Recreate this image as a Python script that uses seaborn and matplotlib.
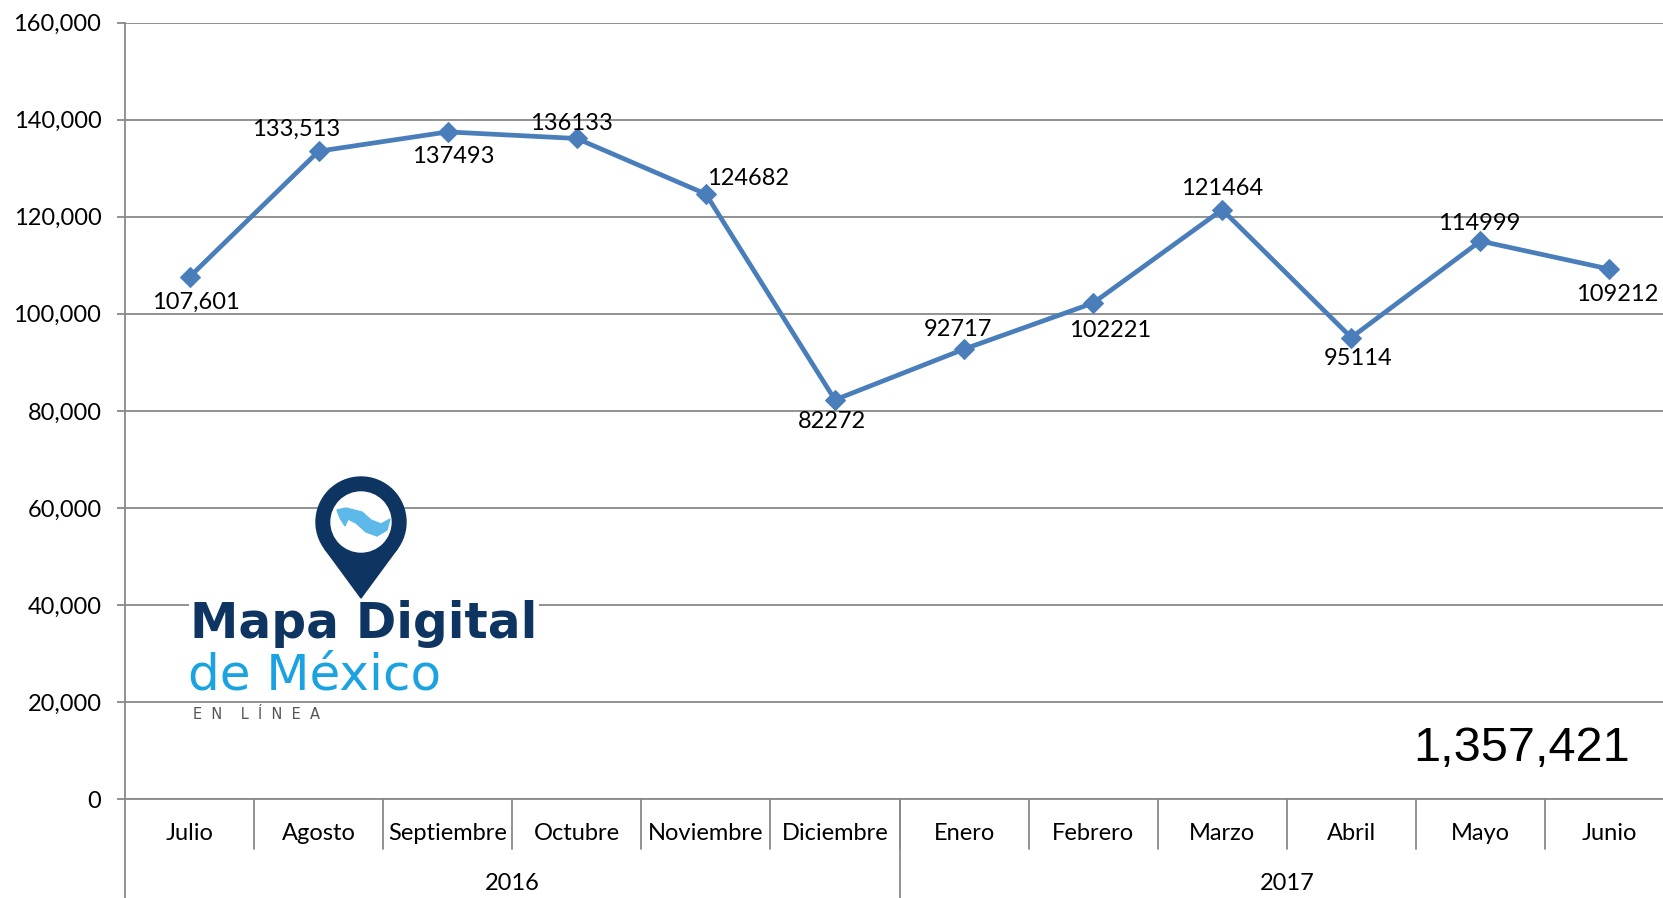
import matplotlib
matplotlib.use("Agg")
import matplotlib.pyplot as plt
import matplotlib.patches as mpatches
import matplotlib.transforms as mtransforms
import pandas as pd
import seaborn as sns
from matplotlib.ticker import FuncFormatter

# ---------------------------------------------------------------------------
# Datos
# ---------------------------------------------------------------------------
meses = ["Julio", "Agosto", "Septiembre", "Octubre", "Noviembre", "Diciembre",
         "Enero", "Febrero", "Marzo", "Abril", "Mayo", "Junio"]
anios = ["2016", "2017"]
meses_por_anio = [6, 6]
valores = [107601, 133513, 137493, 136133, 124682, 82272,
           92717, 102221, 121464, 95114, 114999, 109212]
etiquetas = ["107,601", "133,513", "137493", "136133", "124682", "82272",
             "92717", "102221", "121464", "95114", "114999", "109212"]
total = "1,357,421"

# desplazamiento de cada etiqueta de dato (pixeles, x derecha / y arriba)
desplazamientos = [(6, -25), (-22, 22), (6, -25), (-5, 15), (1, 16), (-3, -22),
                   (-6, 20), (17, -27), (0, 21), (7, -21), (-1, 18), (8, -25)]
alineacion = ["center"] * 4 + ["left"] + ["center"] * 7

# ---------------------------------------------------------------------------
# Estilo
# ---------------------------------------------------------------------------
sns.set_theme(style="white")
plt.rcParams["font.family"] = ["Lato", "DejaVu Sans"]
plt.rcParams["text.color"] = "black"

AZUL = "#4A7EBB"
GRIS = "#898989"
W, H = 1663, 898

df = pd.DataFrame({"mes": meses, "valor": valores})

fig = plt.figure(figsize=(W / 100, H / 100), dpi=100)
ax = fig.add_axes([125 / W, (H - 799) / H, 1549 / W, 776.3 / H])

sns.lineplot(data=df, x="mes", y="valor", sort=False, ax=ax,
             color=AZUL, linewidth=3.4, marker="D", markersize=10.5,
             markeredgecolor=AZUL, markerfacecolor=AZUL)

ax.set_xlim(-0.5, len(meses) - 0.5)
ax.set_ylim(0, 160000)
ax.set_yticks(range(0, 160001, 20000))
ax.yaxis.set_major_formatter(FuncFormatter(lambda v, p: f"{int(v):,}"))
ax.set_xticks([])
ax.set_xlabel("")
ax.set_ylabel("")
ax.yaxis.grid(True, color=GRIS, linewidth=1.3)
ax.set_axisbelow(True)
for lado in ["top", "right"]:
    ax.spines[lado].set_visible(False)
for lado in ["left", "bottom"]:
    ax.spines[lado].set_color(GRIS)
    ax.spines[lado].set_linewidth(1.3)
ax.tick_params(axis="y", left=True, length=6, width=1.3, color=GRIS,
               pad=11, labelsize=17, labelcolor="black")

# etiquetas de datos
for i, (v, txt) in enumerate(zip(valores, etiquetas)):
    dx, dy = desplazamientos[i]
    ax.annotate(txt, (i, v), xytext=(dx, dy), textcoords="offset pixels",
                ha=alineacion[i], va="center", fontsize=17, color="black")

# eje de categorias en dos niveles
trans = mtransforms.blended_transform_factory(ax.transData, ax.transAxes)
alto_ax = 776.3
for i, mes in enumerate(meses):
    ax.text(i, -34 / alto_ax, mes, transform=trans, ha="center", va="center",
            fontsize=17)
for i in range(1, len(meses)):
    ax.plot([i - 0.5, i - 0.5], [0, -50 / alto_ax], transform=trans,
            color=GRIS, lw=1.3, clip_on=False)
inicio = 0
for anio, n in zip(anios, meses_por_anio):
    ax.text(inicio + n / 2 - 0.5, -85 / alto_ax, anio, transform=trans,
            ha="center", va="center", fontsize=17)
    ax.plot([inicio - 0.5, inicio - 0.5], [0, -100 / alto_ax], transform=trans,
            color=GRIS, lw=1.3, clip_on=False)
    inicio += n

# total
fig.text(1630 / W, 1 - 761 / H, total, ha="right", va="baseline",
         fontsize=35, color="black", family=["Liberation Sans", "DejaVu Sans"])

# ---------------------------------------------------------------------------
# Logotipo (capa en coordenadas de pixel)
# ---------------------------------------------------------------------------
lg = fig.add_axes([0, 0, 1, 1], facecolor="none")
lg.set_xlim(0, W)
lg.set_ylim(H, 0)
lg.axis("off")

NAVY = "#0E3461"
CELESTE = "#1AA3E0"
cx, cy, r = 361, 522, 45
lg.add_patch(mpatches.Polygon([(cx - 36.3, cy + 26.6), (cx + 36.3, cy + 26.6),
                               (cx, 598)], color=NAVY))
lg.add_patch(mpatches.Circle((cx, cy), r, color=NAVY))
lg.add_patch(mpatches.Circle((cx, cy), 30, color="white"))
lg.add_patch(mpatches.Polygon([(337, 510), (346, 508), (362, 512), (371, 520),
                               (381, 524), (390, 519), (387, 530), (377, 536),
                               (366, 532), (356, 523), (348, 519), (345, 526),
                               (340, 518)], color="#5DB9EA"))
lg.text(190, 638, "Mapa Digital", ha="left", va="baseline", fontsize=35,
        fontweight="bold", color=NAVY, family="DejaVu Sans",
        bbox=dict(facecolor="white", edgecolor="none", pad=1))
lg.text(188, 690, "de México", ha="left", va="baseline", fontsize=36,
        color=CELESTE, family="DejaVu Sans")
lg.text(193, 719, "E  N    L  Í  N  E  A", ha="left", va="baseline",
        fontsize=10.5, color="#555555", family="DejaVu Sans")

fig.savefig("out.png", dpi=100)
